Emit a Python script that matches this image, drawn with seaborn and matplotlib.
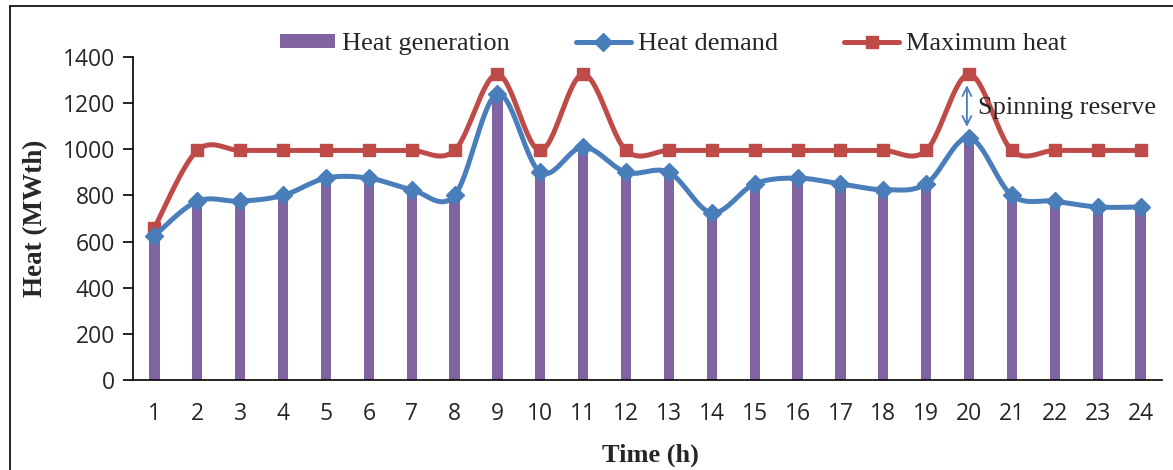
import numpy as np
import pandas as pd
import matplotlib
matplotlib.use("Agg")
import matplotlib.pyplot as plt
from matplotlib.lines import Line2D
from matplotlib.patches import Patch
import seaborn as sns

hours = list(range(1, 25))
heat_generation = [625, 775, 775, 800, 875, 875, 825, 800, 1240, 900, 1010, 900,
                   900, 725, 850, 875, 850, 825, 850, 1050, 800, 775, 750, 750]
heat_demand = [625, 775, 775, 800, 875, 875, 825, 800, 1240, 900, 1010, 900,
               900, 725, 850, 875, 850, 825, 850, 1050, 800, 775, 750, 750]
maximum_heat = [660, 995, 995, 995, 995, 995, 995, 995, 1325, 995, 1325, 995,
                995, 995, 995, 995, 995, 995, 995, 1325, 995, 995, 995, 995]
y_ticks = [0, 200, 400, 600, 800, 1000, 1200, 1400]

PURPLE = "#8064A2"
BLUE = "#4A7EBB"
RED = "#BE4B48"


def smooth(xs, ys, n=30):
    """Excel-style smoothed line (Bezier through the points)."""
    P = np.column_stack([xs, ys]).astype(float)
    ext = np.vstack([P[0], P, P[-1]])
    out = []
    t = np.linspace(0, 1, n)[:, None]
    for i in range(len(P) - 1):
        p0, p1, p2, p3 = ext[i], ext[i + 1], ext[i + 2], ext[i + 3]
        c1 = p1 + (p2 - p0) / 6.0
        c2 = p2 - (p3 - p1) / 6.0
        seg = ((1 - t) ** 3) * p1 + 3 * ((1 - t) ** 2) * t * c1 + 3 * (1 - t) * t ** 2 * c2 + t ** 3 * p2
        out.append(seg if i == 0 else seg[1:])
    s = np.vstack(out)
    return s[:, 0], s[:, 1]


sns.set_style("white")
plt.rcParams["font.family"] = ["Open Sans", "DejaVu Sans"]

fig = plt.figure(figsize=(11.73, 4.70), dpi=100)
ax = fig.add_axes([133 / 1173, 1 - 380 / 470, (1162 - 133) / 1173, (380 - 57) / 470])

df = pd.DataFrame({"hour": hours, "gen": heat_generation,
                   "demand": heat_demand, "maxh": maximum_heat})

sns.barplot(data=df, x="hour", y="gen", native_scale=True, width=0.24,
            color=PURPLE, saturation=1, ax=ax, zorder=1, edgecolor="none")

LW = 3.6
sx, sy = smooth(df["hour"], df["maxh"])
sns.lineplot(x=sx, y=sy, sort=False, color=RED, lw=LW, ax=ax, zorder=3)
ax.plot(df["hour"], df["maxh"], ls="none", marker="s", ms=8.5, color=RED, zorder=4)

sx, sy = smooth(df["hour"], df["demand"])
sns.lineplot(x=sx, y=sy, sort=False, color=BLUE, lw=LW, ax=ax, zorder=5)
ax.plot(df["hour"], df["demand"], ls="none", marker="D", ms=9.5, color=BLUE, zorder=6)

ax.set_xlim(0.5, 24.5)
ax.set_ylim(0, 1400)
ax.set_yticks(y_ticks)
ax.set_xticks(hours)
ax.set_xticklabels([str(h) for h in hours])
for s in ["top", "right"]:
    ax.spines[s].set_visible(False)
for s in ["left", "bottom"]:
    ax.spines[s].set_color("black")
    ax.spines[s].set_linewidth(1.2)
ax.tick_params(axis="y", which="major", left=True, length=7, width=1.2, color="black",
               labelsize=16.5, pad=6)
ax.tick_params(axis="x", bottom=False, labelsize=16.5, pad=12)
ax.set_xlabel("Time (h)", family="Liberation Serif", fontweight="bold", fontsize=19)
ax.set_ylabel("Heat (MWth)", family="Liberation Serif", fontweight="bold", fontsize=19.5)
ax.xaxis.set_label_coords((650 - 133) / 1029, (380 - 455) / 323)
ax.xaxis.label.set_va("center")
ax.yaxis.set_label_coords((36 - 133) / 1029, (380 - 218) / 323)
ax.yaxis.label.set_va("center")
ax.grid(False)

# spinning reserve annotation
ax.annotate("", xy=(19.95, 1290), xytext=(19.95, 1085),
            arrowprops=dict(arrowstyle="<->", color=BLUE, lw=1.3, mutation_scale=16), zorder=7)
ax.text(20.2, 1178, "Spinning reserve", family="Liberation Serif", fontsize=19,
        va="center", ha="left", zorder=8)

handles = [
    Patch(facecolor=PURPLE, edgecolor="none"),
    Line2D([], [], color=BLUE, lw=LW, marker="D", ms=9.5),
    Line2D([], [], color=RED, lw=LW, marker="s", ms=8.5),
]
labels = ["Heat generation", "Heat demand", "Maximum heat"]
fig.legend(handles, labels, loc="center", bbox_to_anchor=(0.574, 1 - 44 / 470), ncol=3,
           frameon=False, prop={"family": "Liberation Serif", "size": 19},
           handlelength=2.1, handleheight=0.45, columnspacing=2.5, handletextpad=0.25,
           borderpad=0, borderaxespad=0)

# outer frame lines (top and left, as in reference)
fig.add_artist(Line2D([10 / 1173, 1.0], [1 - 6 / 470, 1 - 6 / 470], color="black", lw=1.2,
                      transform=fig.transFigure))
fig.add_artist(Line2D([10 / 1173, 10 / 1173], [0, 1 - 6 / 470], color="black", lw=1.2,
                      transform=fig.transFigure))

fig.savefig("out.png", dpi=100)
